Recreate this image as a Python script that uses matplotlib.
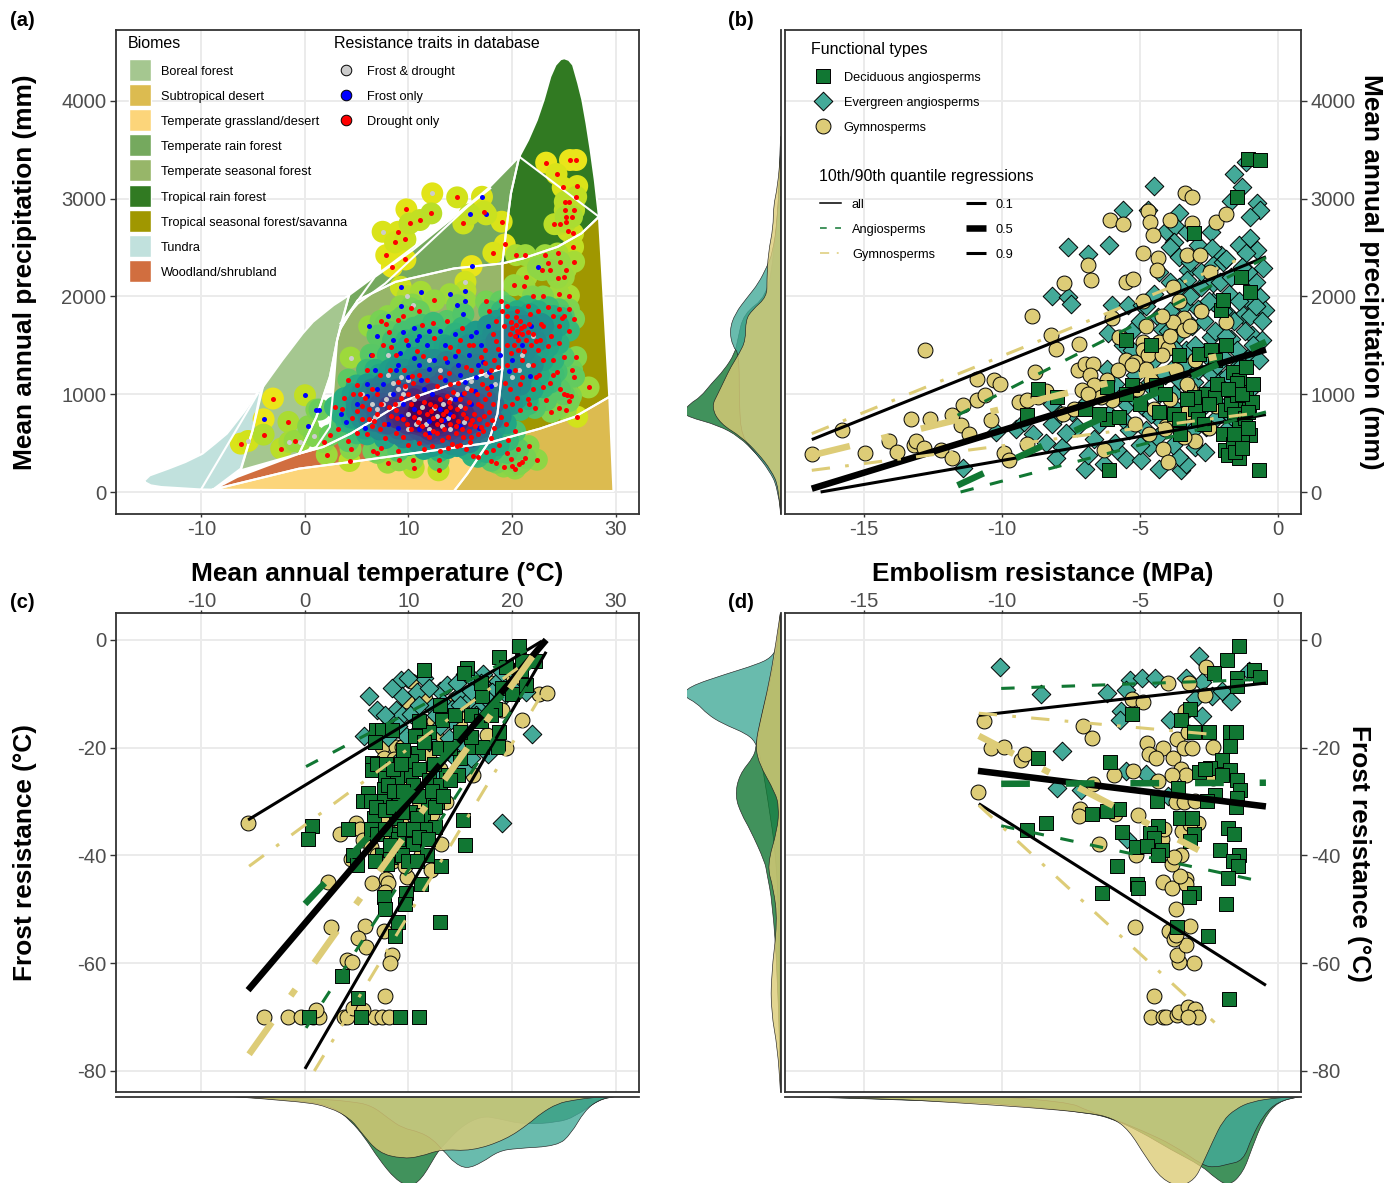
import numpy as np
import matplotlib
matplotlib.use('Agg')
import matplotlib.pyplot as plt
from matplotlib.colors import to_rgba
from matplotlib.patches import PathPatch, Rectangle
from matplotlib.path import Path

plt.rcParams['font.family'] = ['Liberation Sans', 'DejaVu Sans']
plt.rcParams['axes.unicode_minus'] = False

# colours
DEC = '#117733'
EVG = '#44AA99'
GYM = '#DDCC77'
GREY = '#4d4d4d'

# ---- biome outlines (MAT, MAP)
tundra = [(-15.5,102),(-15.5,119),(-15,170),(-13.2,239),(-11.55,307),(-9.9,392),(-8.7,495),(-7.55,597),(-5.9,819),(-4.2,1075),(-5.06,631),(-6.2,239),(-8.9,24),(-10.2,27),(-13.9,51),(-14.9,68)]
boreal = [(-4.06,1075),(-2.2,1348),(-0.23,1621),(0.77,1741),(1.76,1826),(2.76,1911),(4.26,2014),(3.5,1724),(3.1,1553),(2.4,1177),(1.1,768),(-0.57,392),(-6.2,222),(-5.06,631)]
temp_rain = [(4.26,2014),(7.75,2287),(14.4,2816),(17.7,3106),(20.7,3430),(19.9,3055),(19.4,2645),(19.07,2338),(14.4,2287),(8.75,2150),(5.1,1962),(3.43,1672)]
trop_rain = [(20.7,3430),(21.56,3601),(22.4,3805),(23.06,4010),(23.7,4249),(24.2,4369),(24.7,4427),(25.05,4437),(25.5,4420),(25.9,4369),(26.4,4181),(26.8,4010),(27.2,3771),(27.6,3498),(28,3191),(28.4,2816),(26.7,2645),(24.4,2508),(21.06,2389),(19.07,2338),(19.4,2645),(19.9,3055)]
temp_seasonal = [(3.43,1672),(5.1,1962),(8.75,2150),(14.4,2287),(19.07,2338),(19.07,1928),(19.07,1263),(14.4,1109),(9.75,939),(7.1,768),(4.4,597),(1.76,461),(-0.57,392),(1.1,461),(2.4,665),(2.76,1075),(3.1,1553)]
trop_seasonal = [(19.07,2338),(21.06,2389),(24.4,2508),(26.7,2645),(28.4,2816),(29.4,973),(26.05,768),(22.7,648),(17.7,502),(18.6,802),(19.07,1263),(19.07,1928)]
desert = [(29.4,973),(29.8,10),(14.4,10),(15.7,188),(17.7,502),(22.7,648),(26.05,768)]
grassland = [(-8.9,24),(-0.57,239),(4.4,307),(17.7,502),(15.7,188),(14.4,10)]
woodland = [(-8.9,24),(-6.55,154),(-0.57,392),(1.76,461),(4.4,597),(7.1,768),(9.75,939),(14.4,1109),(19.07,1263),(18.6,802),(17.7,502),(4.4,307),(-0.57,239)]
extra_line_1 = [(-10,34),(-4.56,1007)]
extra_line_2 = [(3.43,1724),(5.1,1928),(7.75,2133),(15.7,2918),(17.9,3106)]
extra_line_3 = [(20.7,3430),(28.4,2816)]
extra_line_4 = [(-0.57,392),(1.1,768),(2.4,1177),(3.1,1553),(3.5,1724),(6.75,2201),(10.4,2474),(14.4,2816)]

biome_names = ['Boreal forest','Subtropical desert','Temperate grassland/desert','Temperate rain forest','Temperate seasonal forest','Tropical rain forest','Tropical seasonal forest/savanna','Tundra','Woodland/shrubland']
biome_cols = ['#A5C790','#DCBB50','#FCD57A','#75A95E','#97B669','#317A22','#A09700','#C1E1DD','#D16E3F']

# ---- panel a points (MAT, MAP)
a_red = [(-6.2,495),(-3.1,956),(-4,587),(-1.6,717),(-2.3,444),(-1,522),(2.1,382),(1.8,512),(4.3,317),(4.4,444),(10.4,331),(10.5,249),(9.1,324),(12.9,222),(12.9,324),
 (7.85,2423),(8.4,2304),(9.7,2379),(8.7,2553),(9,2662),(9.7,2584),(10.1,2747),(11.1,2782),(12.2,2850),(9.8,2891),(14.7,3014),(17.3,2867),(19,2765),(15.3,2747),(18.2,2447),(19.3,2532),(20.4,2423),(21.3,2423),
 (23.3,3369),(24.3,3253),(25.6,3396),(26.2,3396),(26.3,3130),(24.9,3116),(26.2,3020),(25.1,2969),(25.5,2962),(26,2884),(25.1,2884),(25.2,2816),(25.8,2816),(24.1,2740),(25.2,2764),(24.6,2740),(25.4,2672),(25.9,2508),(24.4,2440),(23.2,2423),(25.9,2645),(23.5,2338),(24.6,2355),(26,2355),(25.2,2276),(22.9,2270),(23.7,2270),(24.4,2194),(25,2201),(21.4,2201),(20.2,2116),(21.2,2106),
 (24.5,2030),(25.5,2010),(23.5,1890),(25.5,1870),(24.5,1870),(25,1800),(26,1770),(24.8,1780),(23,1700),(24.5,1700),(25.5,1650),(22.5,1850),(21.5,1900),(20.5,1850),(19.5,1800),(19.2,1700),(20,1680),(20.5,1650),(21,1620),(21.2,1700),(21.6,1720),(20.8,1750),(20.3,1600),(19.8,1620),(20.6,1560),(21.4,1560),(22,1620),(22.3,1540),(21.8,1500),(20.2,1500),(19.5,1500),(18.5,1540),(18.2,1620),(18.5,1750),(19,1850),(22.5,1450),(23.5,1490),(24.5,1520),(25,1380),(26.2,1380),(24,1350),(23,1350),(22,1300),(21,1350),(20.3,1250),(19.5,1300),(25.8,1250),(24.3,1230),(26,1180),(27.4,1070),(25,1000),(24.6,1050),(25.7,980),(20.6,1640),(20.9,1680),(20.4,1710),(21.5,1640),(19.9,1740),
 (7,400),(7.3,450),(6.6,420),(8,300),(9,420),(9.5,560),(10,480),(11,500),(11.5,440),(12.3,470),(13.2,530),(13.8,450),(14.2,490),(15,480),(15.6,440),(16.2,370),(16.7,360),(17.5,410),(18,320),(18.2,430),(18.5,300),(19.2,260),(19.5,400),(20,270),(20.3,240),(21.3,350),(22.4,330),(21,310),(19.9,340),(20.7,285),(6,590),(4.2,520),(3.2,640),(2.4,580),(5,600),(6.5,680),(7.7,550),(8.8,600),(10.2,640),(11.6,590),(12.4,620),(13.8,560),(14.6,600),(15.3,560),(16,560),(16.7,590),(17.2,620),(18.3,650),(14.7,470),(15.9,510),(13,420),(5.5,750),
 (2.9,870),(3.6,850),(4.5,760),(5,830),(5.5,880),(5.8,960),(6.2,850),(6.7,730),(7,800),(7.6,700),(8.3,780),(8.8,840),(9.5,750),(9.9,700),(10.5,770),(11,820),(11.3,680),(11.8,800),(12.4,760),(12.8,700),(13.3,800),(13.6,830),(14,870),(14.3,780),(14.8,730),(15.3,800),(15.5,860),(15.9,700),(16.3,800),(16.8,750),(17,880),(17.4,950),(17.8,820),(18.2,900),(18.9,770),(13,950),(13.7,980),(14.3,1020),(15,950),(15.4,1010),(16,1040),(16.6,1000),(17.1,1100),(17.8,1000),(12.1,900),(11.5,920),(10.8,980),(10,1000),(9.3,960),(8.7,900),(7,1000),(6.5,1050),
 (5,1090),(7.2,1200),(8.2,1250),(9,1130),(9.6,1250),(10.4,1120),(11,1200),(11.8,1150),(12.8,1080),(13.9,1220),(14.8,1120),(16,1250),(17,1240),(18,1180),(18.6,1280),(19.8,1050),(20.8,1100),(21.5,950),(23,1070),(24,1200),(22.3,1180),(20,900),(20.8,840),(21.6,900),(19.3,880),(24.5,860),(25.5,930),(25.3,990),(23.3,940),
 (7.5,1500),(7.3,1750),(7.8,1720),(9.5,1800),(11,1850),(12.5,1960),(9.8,1550),(10.8,1440),(11.4,1390),(12.5,1580),(14.8,1440),(15,1560),(15.8,1500),(17.4,1450),(18.3,1350),(13.5,1370),(14,1480),(17.8,1850),(17.5,1950),(8.8,1400),(8.3,1480),
 (12,560),(12.8,600),(13.4,640),(14,700),(14.6,680),(15.2,640),(15.8,620),(16.4,680),(17,660),(17.6,700),(13.1,740),(12.2,830),(15.6,760),(16.1,740),(17.3,780),(18.1,740),(12.6,880),(13.9,920),(14.7,850),(15.8,920),(16.7,900),(17.6,1060),(8.1,870),(8.9,760),(10.2,900),(10.9,720),(7.3,900),(6.2,750),(7.2,640),(3.8,960),(4.6,1000),(5.3,1000),(9.7,1080),(10.3,1190),(13,1180),(14,1100),(15.6,1280),(17.4,1320),(18.6,1460),(18,1250),(19.3,1120),(21,1180),(22,1050),(22.6,1200),(23.7,1120),(20.5,960),(22.2,860),(23.8,820),(25.2,840),(26.3,770),(20.6,1450),(19.9,1420),(21.2,1440),(22.7,1560),(23.8,1600),(22.8,1720),(21.7,1820),(24,1800),(20.4,1790),(19.5,1900),(23,2000),(22,2000),(18.9,1950),(17,1380),(16.2,1500),(15.2,1680),(13.7,1750),(12.4,1730),(11.3,1710),(10.2,1880),(9,1760),(8.1,1640),(6.5,1400),(6,1250),(4.2,1150),(18,550),(18.7,480),(19.6,530),(20.6,440),(21.6,470),(19.4,700),(20.3,620)]
a_blue = [(0,990),(-4,744),(0.3,672),(1.1,843),(1.4,843),(6.2,1696),(6.35,1406),(15.5,2058),(14.7,1911),(15.3,1819),(15.5,1956),(14,2024),(16.1,2311),(17.1,3020),(15.9,2840),(17.5,2840),(22.5,2297),(9.25,2099),(11.2,2048),(9.25,1901),
 (7,1600),(8.5,1550),(9.5,1640),(10.5,1680),(11,1600),(10,1500),(11.8,1500),(13,1650),(14.5,1620),(16,1600),(17,1500),(16.5,1640),(17.7,1700),(15.8,1400),(16.7,1300),(14.5,1390),(12.5,1350),(11,1300),(10.5,1370),(12,1260),(13.5,1150),(15,1200),(15.5,1130),(16.5,1180),(18,1080),(9,1300),(7.5,1100),(7,1050),(6,980),(5,900),(3.5,800),(4,720),(5.8,650),(8,700),(9,650),(11,640),(12,730),(13,850),(14,800),(14.5,950),(16,900),(10.5,850),(9.5,900),(8.5,1000),(11.5,1050),(20,1350),(21,1500),(21.8,1700),(21.7,1184),(19.7,1239),
 (8,1800),(12,1650),(10.8,1550),(9.2,1420),(13.5,1500),(14.8,1300),(11.2,1150),(12.3,1000),(10,1180),(8.8,1250),(13.7,1330),(15.2,1000),(16.4,1030),(17.2,1330),(17.8,1230),(6.8,1250),(6,1100),(9.3,780),(12,600),(13.4,740),(15,680),(16.8,650),(20.4,1600),(18.8,1400)]
a_grey = [(7.5,2662),(12.3,3055),(4.4,1375),(15.5,2150),(-5.5,522),(-1.5,512),(-0.5,512),(0.9,570),(9.9,2003),(10.4,1918),(8,1200),(9.7,1060),(10,1150),(8.2,1000),(7.8,950),(7.5,900),(9,900),(10,800),(11,750),(11.7,700),(12,640),(12.5,860),(13.3,900),(14,950),(15,880),(15.7,1060),(16,1140),(13,1250),(12,1350),(8,1400),(9.3,1180),(5.5,1000),(6.8,770),(10.7,700),(13.2,680),(14,640),(21,1400),(21.5,1300),(20,1180),(22,1600),
 (9.5,1000),(10.5,950),(11.3,870),(12.8,780),(9,1050),(8.5,1120),(7,850),(6.5,900),(13.8,760),(14.7,1000),(15.4,720),(10,640),(17.5,1200),(18.4,1100),(20.7,1250)]

# ---- panel b points (embolism resistance, MAP)
b_gym = [(-16.9,386),(-15.8,631),(-14.97,400),(-14.1,522),(-13.8,410),(-13.3,750),(-13.2,478),(-13.1,522),(-12.84,454),(-12.8,1450),(-12.6,744),(-12.2,427),(-11.8,348),(-11.8,785),(-11.5,683),(-11.4,887),(-11.2,597),(-10.9,1160),(-10.9,938),(-10.6,990),(-10.3,1150),(-10.06,1102),(-10.4,733),(-9.94,400),(-9.76,324),(-9.4,921),(-9.1,945),(-8.8,1229),(-9.1,495),(-8.9,1802),(-8.7,972),(-8.4,1030),(-8.24,1604),(-8.05,1467),(-7.77,2133),(-7.2,1512),(-7.25,1252),(-7,1307),(-6.7,1314),(-6.8,1195),(-6.65,1092),(-6.9,2321),(-6.76,2167),(-6.1,2782),(-5.6,2740),(-5.5,2150),(-5.25,2184),(-4.9,2447),(-4.7,2874),(-4.63,2758),(-4.54,2628),(-4.36,2389),(-4.4,2270),(-3.37,3055),(-3.1,3014),(-3.1,2747),(-3.9,2782),(-3.3,2423),(-2.84,2423),(-2.47,2246),(-2.26,2764),(-1.9,2843),(-1.88,1734),(-3.4,1782),(-3.8,1741),(-4.8,1696),(-5.77,1587),(-4.9,1536),(-4.3,1536),(-4,1478),(-4.9,1450),(-4.7,1406),(-5.5,1348),(-5.2,1331),(-4.8,1263),(-3.4,1655),(-6,1775),(-6,939),(-6.4,973),(-7.1,1041),(-7.8,802),(-6.3,433),(-4.17,444),(-4,307),(-4.66,597),(-4.07,672),(-3.3,819),(-3,522),(-2.25,877),(-3.2,1058),
 (-5.8,1250),(-5.3,1300),(-4.6,1150),(-4.2,1400),(-3.9,1600),(-3.7,1250),(-3.3,1100),(-3,1350),(-2.7,1000),(-5.1,1050),(-4.5,850),(-6.2,1150),(-6.9,1000),(-7.4,850),(-3.9,950),(-3.2,1700),(-2.8,1850),(-4.2,1800),(-4.9,1950),(-3.6,1950),(-3.8,2100),(-4.1,640),(-5.2,700),(-2.5,650),(-3.4,560)]
b_evg = [(-4.5,3130),(-1.58,3253),(-1.29,3123),(-1.18,3379),(-1.7,2976),(-0.78,2959),(-0.67,2884),(-1,2816),(-5.6,2884),(-4.7,2884),(-7.6,2502),(-6.14,2526),(-6.9,2430),(-8.2,2003),(-7.6,1997),(-7.5,1928),(-3.6,2850),(-4.07,2672),(-3.74,2720),(-3.3,2662),(-2.44,2662),(-3.77,2560),(-2.9,2526),(-1.4,2526),(-2.07,2423),(-0.77,2474),(-1.18,2440),(-3.9,2508),(-3.6,2406),(-3.25,2270),(-2.37,2320),(-2,2355),(-0.55,2287),(-3.9,2150),(-3.3,2167),(-0.8,2150),(-2.37,2133),(-1.78,2030),(-4.5,2030),(-0.67,1997),(-1.1,1962),(-6,1911),(-5.44,1911),(-4.93,1911),(-4.36,1792),(-3.4,1911),(-2.9,1877),(-2.37,1945),(-1.26,1809),(-0.49,1860),(-1.85,1826),(-6.17,1631),(-4.2,1672),(-3.6,1621),(-2.44,1587),(-1.7,1570),(-0.96,1604),(-0.59,1553),(-5.25,1655),(-3.33,1450),(-2,1382),(-1.04,1382),(-6.18,1263),(-5.18,1195),(-3.85,1263),(-3.18,1280),(-2.44,1212),(-1.48,1280),(-2.07,1143),(-1,1041),(-6.9,1024),(-5.47,887),(-4.88,870),(-3.77,1007),(-3.03,1126),(-8.2,904),(-7.45,819),(-10.2,614),(-9.5,648),(-8.87,597),(-8.2,700),(-7.84,461),(-7.3,665),(-6.66,546),(-6.14,802),(-5.4,631),(-4.8,631),(-4.2,717),(-3.4,683),(-2.6,665),(-8.05,352),(-7,239),(-6.3,290),(-5.5,341),(-4.95,324),(-4.3,239),(-3.5,229),(-3.33,290),(-3.6,358),(-3,461),(-2.66,410),(-11.4,249),(-5.84,427),(-4.66,461),(-1.85,904),(-1.85,648),
 (-5.9,1100),(-5.6,1500),(-5.3,1450),(-5,1750),(-4.7,1100),(-4.5,1350),(-4.3,1000),(-4.1,1200),(-4,1650),(-3.9,1850),(-3.8,1480),(-3.6,1150),(-3.5,1750),(-3.4,1300),(-3.2,2000),(-3.1,1700),(-3,1500),(-2.9,1250),(-2.8,2100),(-2.7,1750),(-2.6,1400),(-2.5,1050),(-2.5,1950),(-2.3,1650),(-2.2,1300),(-2.1,2150),(-2,1850),(-1.9,1600),(-1.8,1200),(-1.7,2200),(-1.6,1750),(-1.5,1450),(-1.4,1950),(-1.3,1300),(-1.2,1650),(-1.1,2250),(-1,1800),(-.9,1500),(-.8,1900),(-.7,1350),(-.6,1750),(-1.6,1050),(-2.8,850),(-3.7,850),(-4.6,800),(-5.2,950),(-5.6,750),(-6.5,700),(-7,900),(-7.7,600),(-8.4,500),(-6.9,380),(-5.9,500),(-5,480),(-4.4,560),(-3.8,480),(-3.1,620),(-2.3,750),(-1.7,780),(-7.9,800),(-9.2,720),(-3.6,2100),(-4.3,2250),(-2.4,2500),(-1.9,2380),(-1.3,2300),(-1,2600),(-4.8,1900),(-3.2,2350),(-2.8,2250)]
b_dec = [(-1.1,3403),(-0.64,3396),(-1.48,3020),(-3.03,2645),(-1.33,2201),(-1,2048),(-2.07,1860),(-2,1962),(-0.7,222),(-6.14,222),(-8.7,1058),(-9.1,785),(-8,973),(-6.2,1075),(-6.2,751),(-5.77,768),(-5.3,1092),(-4.44,1092),(-4.3,819),(-3.77,802),(-2.88,1416),(-2.44,1450),(-1.63,1229),(-1.43,1143),(-1.18,1280),(-1.18,1024),(-3.55,597),(-3,853),(-2.9,751),(-2.6,1007),(-2.3,973),(-1.92,836),(-1.33,887),(-1.04,887),(-1.4,665),(-1,587),(-2,597),(-1.92,427),(-1.63,495),(-1.29,512),(-1.82,375),(-1.4,352),(-1.55,410),(-3.03,973),(-1.7,904),(-1.48,990),(-0.96,921),
 (-1.5,1120),(-1.3,1000),(-1.6,800),(-1.2,760),(-.9,1100),(-1.1,650),(-1.3,450),(-2.2,1100),(-2.5,900),(-2.7,700),(-3.3,950),(-3.6,750),(-4.1,1000),(-5,900),(-5.5,1000),(-6.5,800),(-7,850),(-2.3,1350),(-1.9,1500),(-3.6,1400),(-4.6,1500),(-5.5,1550),(-1.8,1050),(-1.6,590),(-1.1,820)]

# ---- panel c points (MAT, frost resistance)
c_gym = [(-4,-70),(-1.6,-70),(-0.4,-70),(0.8,-70),(1.4,-70),(3.8,-70),(4.1,-70),(6.8,-70),(7.4,-70),(8.1,-70),(1.1,-68.7),(4.6,-68.4),(5.6,-68.7),(7.75,-66),(-5.5,-33.9),(2.2,-45),(2.5,-53.3),(5.8,-53),(5.1,-55.4),(5.9,-56.9),(4.1,-59.4),(4.5,-59.8),(8.4,-58.5),(8.2,-59.9),(7.65,-54),(9.9,-44),(12.2,-42.7),(6.5,-45.1),(7.85,-44.3),(8,-45.2),(7.75,-46.7),(3.4,-36),(4.9,-33.9),(5.3,-35.1),(5.6,-37.2),(4.4,-40.6),(6.4,-38.5),(8.25,-35.8),(10.75,-34.1),(12.25,-32.3),(13.6,-30),(13.1,-37.9),(11.25,-39.9),(7.4,-19.9),(7.6,-21.9),(8.75,-19.9),(9.4,-19.9),(8.6,-22.1),(11.75,-23.9),(12,-21.2),(12.75,-18.2),(11.25,-16),(9.9,-11.4),(11.6,-11),(15.4,-13.4),(17.6,-17.6),(16.2,-25),(19.4,-20),(21,-14.9),(16.7,-8),(20.3,-9.9),(22.6,-10),(23.4,-9.9),(10.25,-7.7),(20.1,-7),(8.1,-24),(9.4,-27.7),
 (9,-25),(8,-26),(10,-27),(9,-31),(7.6,-33),(9.3,-34),(11,-31),(6.9,-35),(10.5,-24),(13,-24),(14,-21),(15,-16),(16.5,-11),(18,-8),(19,-13),(12.5,-15),(14.5,-11),(7,-40),(8.5,-41),(9.7,-42)]
c_evg = [(6.2,-10.4),(5.66,-17.8),(9.25,-7.5),(11.5,-7.1),(9.4,-10.4),(10.8,-9.7),(13,-9.5),(13.7,-8.3),(12.25,-12.4),(13.3,-11.7),(14.75,-10.4),(14.2,-12.8),(15.5,-6.3),(17.2,-6.3),(18.6,-7.7),(18.1,-9.7),(16.9,-12.4),(15.9,-11),(8.75,-13),(8.25,-14.8),(9.4,-14),(10.25,-13.8),(21.9,-17.5),(19.05,-33.9),(10.1,-36.8),(9.4,-21.7),(12.9,-25.3),(13.9,-18.2),(17.7,-21.2),(15.4,-24),(21.4,-9.7),(20.2,-6),(9.75,-17.8),(14.1,-14.8),(16.2,-7.3),(19.4,-10),
 (7,-13),(7.7,-14),(8.4,-9),(10,-7),(12,-9),(11,-12),(12.7,-14),(14.7,-8),(16,-9.5),(17,-8),(17.6,-11),(19,-6),(20,-9),(15,-12),(16.5,-14),(13,-16),(15,-19),(16,-22),(14.5,-22),(12,-19),(10.8,-17),(8,-18),(9,-16)]
c_dec = [(20.7,-1.2),(18.7,-3.1),(19.4,-5),(22.2,-3.9),(15.7,-5.3),(15.4,-6.1),(11.5,-5.6),(20.9,-5.6),(21.4,-8.3),(17.1,-10.4),(18.4,-12.8),(13.25,-14.8),(18.7,-17),(10.6,-17.8),(6.9,-16.8),(7.4,-16.8),(8.4,-16.8),(10.9,-20.9),(12.9,-20),(16.1,-19.9),(17.1,-19.9),(18.6,-19.9),(6.5,-22.8),(10.25,-22.5),(6.5,-24.2),(7.75,-25),(8.9,-25.5),(10.25,-25),(13.6,-25),(14.8,-25),(6.1,-28.4),(7.65,-27.7),(5.6,-29.9),(6.4,-29.9),(7.6,-29.9),(9.1,-30),(11.9,-30),(12.75,-30),(10.4,-27),(6.7,-33),(8.75,-33.1),(10.1,-32),(11.4,-32.4),(12.6,-34.8),(0.7,-34.6),(0.27,-37),(4.16,-35),(6.4,-35.1),(8.75,-36),(15.25,-33.4),(15.5,-38),(4.6,-40),(5,-41.8),(7.4,-39.9),(8.25,-40.2),(9.4,-38.5),(10.4,-37.9),(9.4,-40),(11.75,-39.9),(13.15,-41.9),(11.25,-45.3),(9.75,-47),(7.6,-47.7),(7.75,-50),(9.7,-49),(9,-52.4),(13,-52.4),(8.7,-55),(3.6,-62.4),(5.15,-66.5),(5.4,-70),(9.15,-70),(11,-70),(0.4,-70),
 (7,-23),(7.8,-23),(8.5,-24),(9.3,-23),(11,-24),(12,-26),(13,-27),(8,-27),(8.6,-28),(9.5,-28),(11,-29),(12.3,-28),(6.9,-31),(7.7,-31.5),(8.5,-31),(9.4,-32),(10.8,-33),(11.6,-35),(7,-36),(7.7,-35),(9,-37),(9.6,-35),(10.4,-35),(11,-36.5),(11.9,-37),(8.2,-38),(10,-41),(10.8,-41),(7.9,-41.5),(6.8,-41),(12.6,-31),(13.3,-29),(14,-26),(15,-22),(16,-18),(14,-20),(15,-17),(12,-17),(11,-15),(13,-12),(14.5,-14),(16,-14),(17,-15),(18,-14),(19,-9),(20,-10),(21,-4),(17,-8),(12.5,-23),(11.5,-19),(9.5,-20.5),(6.8,-19)]

# ---- panel d points (embolism resistance, frost resistance)
d_gym = [(-4.6,-70),(-4.17,-70),(-4.07,-70),(-3.65,-69.7),(-3.6,-69),(-3.25,-68.2),(-3,-68.5),(-2.9,-70),(-3.25,-70),(-4.5,-66),(-3.06,-59.9),(-3.6,-59.7),(-3.65,-58.5),(-3.33,-56.7),(-5.2,-53.3),(-3.96,-54),(-3.77,-55.5),(-3.7,-54.8),(-3.18,-53),(-3.68,-50),(-4.17,-45),(-3.85,-46.1),(-3.33,-44.3),(-3.33,-45.3),(-3.55,-43.8),(-3.85,-41.6),(-5.13,-40),(-3.5,-39.9),(-3.77,-40.2),(-6.5,-37.9),(-4.2,-37),(-3.48,-35.5),(-2.9,-34),(-3.18,-34.1),(-5.06,-32.4),(-7.17,-31.4),(-7.2,-32.6),(-5.9,-32.3),(-10.87,-28.2),(-6.7,-26.7),(-9.3,-22.3),(-9.17,-21.2),(-10.4,-20),(-9.94,-19.9),(-10.64,-15),(-7.06,-16),(-6.73,-18.2),(-4.76,-19.2),(-4.17,-20),(-4.66,-21.1),(-4.44,-22),(-3.8,-21.9),(-3.67,-18.3),(-3.4,-20),(-3.1,-20),(-2.37,-19.9),(-3.25,-17),(-3.37,-13.1),(-5.28,-11),(-4.88,-11.5),(-4,-8),(-3.22,-8),(-2.6,-5),(-2.66,-10.2),(-5.95,-25),(-5.25,-24.3),(-3.5,-24),(-3.33,-25),(-3.85,-25),(-4.36,-26.2),(-3.7,-30),(-3.4,-30),(-3,-29.9),(-2.37,-25.6),(-4.14,-35.1)]
d_evg = [(-10.06,-5),(-8.58,-10),(-6.18,-9.9),(-5.36,-7.5),(-5.5,-9.2),(-4.93,-7),(-4.47,-7),(-3.33,-7),(-2.86,-2.9),(-2.74,-7.8),(-3,-10.9),(-2.4,-10.4),(-2.03,-9.5),(-1.7,-11.3),(-1.04,-5.8),(-5.7,-13.1),(-5.72,-14.9),(-3.92,-14.9),(-2.77,-14.2),(-7.84,-20.6),(-5.5,-24.3),(-4.8,-24.8),(-8,-27.5),(-7.14,-27.9),(-4,-29),(-5.47,-37)]
d_dec = [(-1.4,-1.2),(-1.85,-3.8),(-0.89,-5.6),(-0.64,-6.9),(-2.32,-6.2),(-1.48,-7.1),(-1.48,-8.5),(-5.3,-13.8),(-3.2,-12.9),(-3.5,-14.9),(-3.03,-17),(-2.49,-17),(-1.75,-17),(-1.52,-17),(-1.75,-19.7),(-8.7,-22),(-6.1,-22.6),(-2.03,-22.3),(-2.88,-24.5),(-2.47,-23.8),(-2.66,-24),(-1.73,-24.1),(-2.03,-25),(-1.48,-26),(-1.38,-27.9),(-3.62,-27.5),(-2.3,-28.8),(-2.56,-29.9),(-1.48,-29.4),(-1.52,-31),(-4.4,-29.9),(-5.77,-31.4),(-6.2,-31.8),(-6.73,-32.3),(-8.4,-33.9),(-9.1,-35.3),(-3.55,-33),(-3.1,-33.1),(-4.36,-34.6),(-4.63,-35.8),(-5.67,-35.7),(-4.5,-36.8),(-3.06,-36),(-1.82,-34.9),(-1.61,-36),(-5.13,-38.4),(-4.73,-38.2),(-4.2,-38.9),(-3.2,-37.3),(-2.1,-38.9),(-4.36,-40),(-1.4,-40),(-1.63,-41.1),(-1.46,-41.9),(-5.84,-41.9),(-1.8,-44.2),(-5.1,-45.3),(-5.06,-46),(-6.36,-47),(-3.06,-47),(-3.22,-47.7),(-1.9,-49),(-3.65,-53.3),(-2.54,-55),(-1.76,-66.6)]

# ---- quantile regression end points: (x1, y1, x2, y2) for q = 0.1, 0.5, 0.9
b_all = [(-16.57,0,-0.44,792),(-16.89,34,-0.44,1457),(-16.89,536,-0.44,2406)]
b_ang = [(-11.5,0,-0.44,819),(-11.61,68,-0.44,1536),(-11.61,785,-0.44,2396)]
b_gyms = [(-16.89,222,-0.96,802),(-16.89,375,-1.55,1433),(-16.89,597,-1.48,2372)]
c_all = [(0,-79.6,23.3,-2.2),(-5.5,-65,23.3,0),(-5.5,-33.4,22.9,-0.2)]
c_ang = [(0.1,-72,21.9,-7.3),(0,-49,21.8,-4.6),(0.1,-23.5,21.4,-1.9)]
c_gyms = [(0.9,-80,23.1,-9.4),(-5.4,-76.9,23.3,0.5),(-5.4,-42,23.1,-1.6)]
d_all = [(-10.84,-30.4,-0.44,-64.1),(-10.87,-24.3,-0.44,-30.9),(-10.84,-14,-0.44,-8)]
d_ang = [(-10.03,-34.5,-0.44,-45),(-10.03,-26.7,-0.44,-26.5),(-10.03,-9,-0.44,-7.3)]
d_gyms = [(-10.84,-30.7,-2.3,-71),(-10.84,-17.8,-2.88,-39),(-10.84,-13.6,-2.44,-17.5)]

# ---- marginal densities
bl_dec_y = [-222,-119,51,222,392,563,683,768,819,904,973,1109,1246,1416,1553,1826,1997,2440,3123,3635]
bl_dec_d = [0,0,.02,.1,.25,.42,.64,.95,1,.93,.82,.71,.58,.47,.44,.38,.14,.066,.01,0]
bl_evg_y = [-188,51,222,392,563,904,1416,1485,1655,1826,1997,2133,2304,2440,2782,3294,3635]
bl_evg_d = [0,.03,.118,.25,.4,.424,.424,.49,.524,.467,.336,.227,.14,.083,.03,.01,0]
bl_gym_y = [-222,51,222,392,563,700,870,1007,1143,1280,1416,1553,1758,1860,1997,2167,2440,2713,2918,3123,3464]
bl_gym_d = [0,.017,.096,.227,.4,.62,.71,.642,.576,.51,.424,.358,.358,.293,.14,.14,.127,.074,.074,.03,0]

cb_dec_x = [-7.2,-.2,2.8,4.4,5.8,7.1,8.75,10.1,11.25,12.75,13.2,15.1,17.1,18.7,21.1,24.4,26.1,28.4,30]
cb_dec_d = [0,.042,.12,.267,.458,.69,.924,1,.924,.627,.564,.33,.216,.246,.31,.288,.225,.034,0]
cb_evg_x = [-5.6,1.1,4.4,6.4,8.1,9.4,11.1,12.4,13.2,13.6,14.4,15.6,17.1,18.7,20.4,24.4,25.7,27,28.4,30]
cb_evg_d = [0,.025,.055,.097,.246,.35,.394,.48,.585,.627,.733,.805,.733,.606,.576,.55,.415,.16,.034,0]
cb_gym_x = [-7.2,-.2,2.4,4.4,5.4,7.1,9.4,11.1,13.2,16.1,19.4,21.7,22.7,24.4,26,27.7,30]
cb_gym_d = [0,.055,.12,.246,.394,.627,.69,.669,.585,.606,.479,.297,.195,.076,.04,.012,0]

db_dec_x = [-17.8,-11.3,-9.1,-6.9,-6,-4.96,-3.92,-2.74,-2.3,-1.78,-1.26,-.96,-.52,0,.81]
db_dec_d = [0,.055,.11,.18,.246,.394,.585,.775,.9,1,.84,.585,.246,.055,0]
db_evg_x = [-9.84,-7.6,-6.9,-6,-4.96,-3.77,-2.74,-2.3,-1.85,-1.26,-.96,-.52,0,.81]
db_evg_d = [.01,.055,.16,.246,.373,.542,.763,.788,.754,.712,.458,.203,.055,0]
db_gym_x = [-17.8,-14.3,-11.3,-9.1,-6.9,-6,-5.4,-4.8,-4.2,-3.55,-3.03,-2.74,-2.37,-2,-1.55,-.96,0,.81]
db_gym_d = [0,.02,.076,.12,.18,.237,.373,.67,.924,1,.924,.754,.5,.267,.14,.055,.013,0]

dl_evg_y = [5.2,-1.2,-3.3,-4.6,-6.3,-8.7,-10.4,-11.7,-13.8,-15.5,-17.5,-19.2,-21.6,-28.4,-41.9,-62.3,-82.6]
dl_evg_d = [0,.03,.096,.25,.555,.948,1,.86,.75,.6,.336,.25,.205,.14,.03,.01,0]
dl_dec_y = [5.2,-1.2,-3.9,-8,-14.8,-19.5,-21.6,-25,-29,-32.4,-35.1,-41.2,-43.3,-48.7,-62.3,-82.6]
dl_dec_d = [0,.03,.066,.11,.205,.25,.27,.424,.467,.4,.314,.16,.14,.083,.03,0]
dl_gym_y = [5.2,-1.2,-8,-14.8,-19.2,-22.8,-28.4,-31,-35.1,-41.9,-46,-52.1,-62.3,-69,-75.8,-84]
dl_gym_d = [0,.052,.118,.205,.257,.227,.052,.017,.03,.14,.074,.03,.096,.096,.03,0]

W, H = 1400, 1183
fig = plt.figure(figsize=(14, 11.83), dpi=100)


def px_axes(l, t, r, b):
    return fig.add_axes([l / W, 1 - b / H, (r - l) / W, (b - t) / H])


def style(ax, xlim, ylim, xticks, yticks, xtop=False, yright=False):
    ax.set_xlim(xlim)
    ax.set_ylim(ylim)
    ax.set_xticks(xticks)
    ax.set_yticks(yticks)
    ax.grid(True, color='#ebebeb', lw=1.4, zorder=0)
    ax.set_axisbelow(True)
    ax.tick_params(axis='y', labelsize=14.6, colors='#333333', labelcolor=GREY, length=4, width=1,
                   left=not yright, right=yright, labelleft=not yright, labelright=yright, pad=3)
    ax.tick_params(axis='x', labelsize=14.6, colors='#333333', labelcolor=GREY, length=2.5, width=1,
                   top=xtop, bottom=not xtop, labeltop=xtop, labelbottom=not xtop,
                   pad=-1 if xtop else 2)
    for s in ax.spines.values():
        s.set_color('#333333')
        s.set_linewidth(1.3)


SIZE_DEC, SIZE_EVG, SIZE_GYM = 95, 90, 115


def points(ax, pts, kind):
    x = [p[0] for p in pts]
    y = [p[1] for p in pts]
    if kind == 'dec':
        ax.scatter(x, y, marker='s', s=SIZE_DEC, c=DEC, edgecolors='black', linewidths=0.7, zorder=3)
    elif kind == 'evg':
        ax.scatter(x, y, marker='D', s=SIZE_EVG, c=EVG, edgecolors='black', linewidths=0.7, zorder=3)
    else:
        ax.scatter(x, y, marker='o', s=SIZE_GYM, c=GYM, edgecolors='black', linewidths=0.7, zorder=3)


# dash patterns are in line widths, so the thick line has longer dashes
DASHED = (0, (4.4, 5.5))
DOTDASH = (0, (6, 5, 1.2, 5))


def qlines(ax, rows, col, ls):
    widths = [2.2, 4.7, 2.2]
    for (x1, y1, x2, y2), lw in zip(rows, widths):
        ax.plot([x1, x2], [y1, y2], color=col, lw=lw, ls=ls, solid_capstyle='butt', dash_capstyle='butt', zorder=4)


def curve_patch(xs, ys, col):
    # read points are the control points of a quadratic path, then closed along the baseline
    pts = list(zip(xs, ys))
    verts = [pts[0]]
    codes = [Path.MOVETO]
    for i in range(1, len(pts) - 1):
        mid = ((pts[i][0] + pts[i + 1][0]) / 2, (pts[i][1] + pts[i + 1][1]) / 2)
        verts += [pts[i], mid]
        codes += [Path.CURVE3, Path.CURVE3]
    verts.append(pts[-1])
    codes.append(Path.LINETO)
    verts.append(pts[0])
    codes.append(Path.CLOSEPOLY)
    return PathPatch(Path(verts, codes), fc=to_rgba(col, 0.8), ec='#222222', lw=0.45, zorder=2)


def margin_left(t, b, curves, ylim):
    ax = px_axes(687, t, 780.5, b)
    for y, d, c in curves:
        ax.add_patch(curve_patch(d, y, c))
    ax.set_xlim(0.96, 0)
    ax.set_ylim(ylim)
    ax.set_xticks([])
    ax.set_yticks([])
    for k, s in ax.spines.items():
        s.set_visible(k == 'right')
    ax.spines['right'].set_color('#333333')
    ax.spines['right'].set_linewidth(1.3)
    ax.patch.set_alpha(0)


def margin_bottom(l, r, curves, xlim):
    ax = px_axes(l, 1096.5, r, 1183)
    for x, d, c in curves:
        ax.add_patch(curve_patch(x, d, c))
    ax.set_xlim(xlim)
    ax.set_ylim(0.96, 0)
    ax.set_xticks([])
    ax.set_yticks([])
    for k, s in ax.spines.items():
        s.set_visible(k == 'top')
    ax.spines['top'].set_color('#333333')
    ax.spines['top'].set_linewidth(1.3)
    ax.patch.set_alpha(0)


temp_ticks = [-10, 0, 10, 20, 30]
map_ticks = [0, 1000, 2000, 3000, 4000]
emb_ticks = [-15, -10, -5, 0]
frost_ticks = [0, -20, -40, -60, -80]
temp_lim = (-18.26, 32.27)
map_lim = (-225, 4726)
emb_lim = (-17.86, 0.83)
frost_lim = (-83.9, 5.0)

# ---- panel a
ax_a = px_axes(116, 30, 639, 514)
style(ax_a, temp_lim, map_lim, temp_ticks, map_ticks)
biome_polys = [(tundra, '#C1E1DD'), (boreal, '#A5C790'), (temp_rain, '#75A95E'), (trop_rain, '#317A22'),
               (temp_seasonal, '#97B669'), (trop_seasonal, '#A09700'), (desert, '#DCBB50'),
               (grassland, '#FCD57A'), (woodland, '#D16E3F')]
for poly, col in biome_polys:
    ax_a.fill([p[0] for p in poly], [p[1] for p in poly], color=col, lw=0, zorder=1)

all_pts = np.array(a_red + a_blue + a_grey, dtype=float)
# neighbour count in an ellipse wider in MAT gives the halo colour
dx = (all_pts[:, None, 0] - all_pts[None, :, 0]) / 5.5
dy = (all_pts[:, None, 1] - all_pts[None, :, 1]) / 210
count = ((dx ** 2 + dy ** 2) < 1).sum(axis=1).astype(float)
order = np.argsort(count)
ax_a.scatter(all_pts[order, 0], all_pts[order, 1], c=count[order], cmap='viridis_r', s=250, lw=0,
             vmin=1, vmax=count.max(), zorder=2)
for poly, col in biome_polys:
    ax_a.plot([p[0] for p in poly + poly[:1]], [p[1] for p in poly + poly[:1]], color='white', lw=1.5, zorder=2.5)
for line in (extra_line_1, extra_line_2, extra_line_3, extra_line_4):
    ax_a.plot([p[0] for p in line], [p[1] for p in line], color='white', lw=1.5, zorder=2.5)
for pts, col in ((a_grey, '#cccccc'), (a_blue, '#0000ff'), (a_red, '#ff0000')):
    ax_a.scatter([p[0] for p in pts], [p[1] for p in pts], s=13, c=col, lw=0, zorder=3)

# ---- panel b
ax_b = px_axes(785, 30, 1301, 514)
style(ax_b, emb_lim, map_lim, emb_ticks, map_ticks, yright=True)
points(ax_b, b_evg, 'evg')
points(ax_b, b_gym, 'gym')
points(ax_b, b_dec, 'dec')
qlines(ax_b, b_all, 'black', '-')
qlines(ax_b, b_ang, DEC, DASHED)
qlines(ax_b, b_gyms, GYM, DOTDASH)
margin_left(30, 514, [(bl_dec_y, bl_dec_d, DEC), (bl_evg_y, bl_evg_d, EVG), (bl_gym_y, bl_gym_d, GYM)], map_lim)

# ---- panel c
ax_c = px_axes(116, 613, 639, 1092)
style(ax_c, temp_lim, frost_lim, temp_ticks, frost_ticks, xtop=True)
points(ax_c, c_gym, 'gym')
points(ax_c, c_evg, 'evg')
points(ax_c, c_dec, 'dec')
qlines(ax_c, c_all, 'black', '-')
qlines(ax_c, c_ang, DEC, DASHED)
qlines(ax_c, c_gyms, GYM, DOTDASH)
margin_bottom(116, 639, [(cb_dec_x, cb_dec_d, DEC), (cb_evg_x, cb_evg_d, EVG), (cb_gym_x, cb_gym_d, GYM)], temp_lim)

# ---- panel d
ax_d = px_axes(785, 613, 1301, 1092)
style(ax_d, emb_lim, frost_lim, emb_ticks, frost_ticks, xtop=True, yright=True)
points(ax_d, d_evg, 'evg')
points(ax_d, d_gym, 'gym')
points(ax_d, d_dec, 'dec')
qlines(ax_d, d_all, 'black', '-')
qlines(ax_d, d_ang, DEC, DASHED)
qlines(ax_d, d_gyms, GYM, DOTDASH)
margin_left(613, 1092, [(dl_evg_y, dl_evg_d, EVG), (dl_dec_y, dl_dec_d, DEC), (dl_gym_y, dl_gym_d, GYM)], frost_lim)
margin_bottom(785, 1301, [(db_dec_x, db_dec_d, DEC), (db_evg_x, db_evg_d, EVG), (db_gym_x, db_gym_d, GYM)], emb_lim)

# ---- overlay in pixel coordinates for text and legends
ov = fig.add_axes([0, 0, 1, 1], zorder=10)
ov.set_xlim(0, W)
ov.set_ylim(H, 0)
ov.axis('off')
ov.patch.set_alpha(0)

for lab, x, y in (('(a)', 10, 20), ('(b)', 728, 20), ('(c)', 10, 602), ('(d)', 728, 602)):
    ov.text(x, y, lab, fontsize=14.5, fontweight='bold', ha='left', va='center')

LABEL = 18.9
ov.text(25, 272, 'Mean annual precipitation (mm)', rotation=90, fontsize=LABEL, fontweight='bold', ha='center', va='center')
ov.text(1371, 272, 'Mean annual precipitation (mm)', rotation=270, fontsize=LABEL, fontweight='bold', ha='center', va='center')
ov.text(25, 853, 'Frost resistance (°C)', rotation=90, fontsize=LABEL, fontweight='bold', ha='center', va='center')
ov.text(1359, 853, 'Frost resistance (°C)', rotation=270, fontsize=LABEL, fontweight='bold', ha='center', va='center')
ov.text(377, 574, 'Mean annual temperature (°C)', fontsize=LABEL, fontweight='bold', ha='center', va='center')
ov.text(1043, 574, 'Embolism resistance (MPa)', fontsize=LABEL, fontweight='bold', ha='center', va='center')

# legend panel a
ov.text(128, 43, 'Biomes', fontsize=11.5, ha='left', va='center')
ov.text(334, 43, 'Resistance traits in database', fontsize=11.5, ha='left', va='center')
biome_y = [70, 95, 120, 145, 170, 196, 221, 246, 271]
for name, col, y in zip(biome_names, biome_cols, biome_y):
    ov.add_patch(Rectangle((129, y - 11), 22, 22, fc=col, ec='white', lw=1))
    ov.text(161, y + 1.5, name, fontsize=9.2, ha='left', va='center')
for name, col, y in (('Frost & drought', '#cccccc', 70), ('Frost only', '#0000ff', 95), ('Drought only', '#ff0000', 120)):
    ov.scatter([346], [y], s=58, c=col, edgecolors='black', linewidths=0.7)
    ov.text(367, y + 1.5, name, fontsize=9.2, ha='left', va='center')

# legend panel b
ov.text(811, 49, 'Functional types', fontsize=11.5, ha='left', va='center')
for name, mk, col, s, y in (('Deciduous angiosperms', 's', DEC, SIZE_DEC, 76), ('Evergreen angiosperms', 'D', EVG, SIZE_EVG, 101), ('Gymnosperms', 'o', GYM, SIZE_GYM, 126)):
    ov.scatter([823], [y], marker=mk, s=s, c=col, edgecolors='black', linewidths=0.7)
    ov.text(843.5, y + 1.5, name, fontsize=9.2, ha='left', va='center')
ov.text(819, 176.5, '10th/90th quantile regressions', fontsize=11.5, ha='left', va='center')
for name, col, ls, y in (('all', 'black', '-', 203), ('Angiosperms', DEC, DASHED, 228), ('Gymnosperms', GYM, DOTDASH, 253)):
    ov.plot([820, 841], [y, y], color=col, ls=ls, lw=1.1)
    ov.text(852, y + 1.5, name, fontsize=9.2, ha='left', va='center')
for name, lw, y in (('0.1', 2.2, 203), ('0.5', 4.7, 228), ('0.9', 2.2, 253)):
    ov.plot([966, 986], [y, y], color='black', lw=lw, solid_capstyle='butt')
    ov.text(995, y + 1.5, name, fontsize=9.2, ha='left', va='center')
ov.set_xlim(0, W)
ov.set_ylim(H, 0)

fig.savefig('out.png', dpi=100)
